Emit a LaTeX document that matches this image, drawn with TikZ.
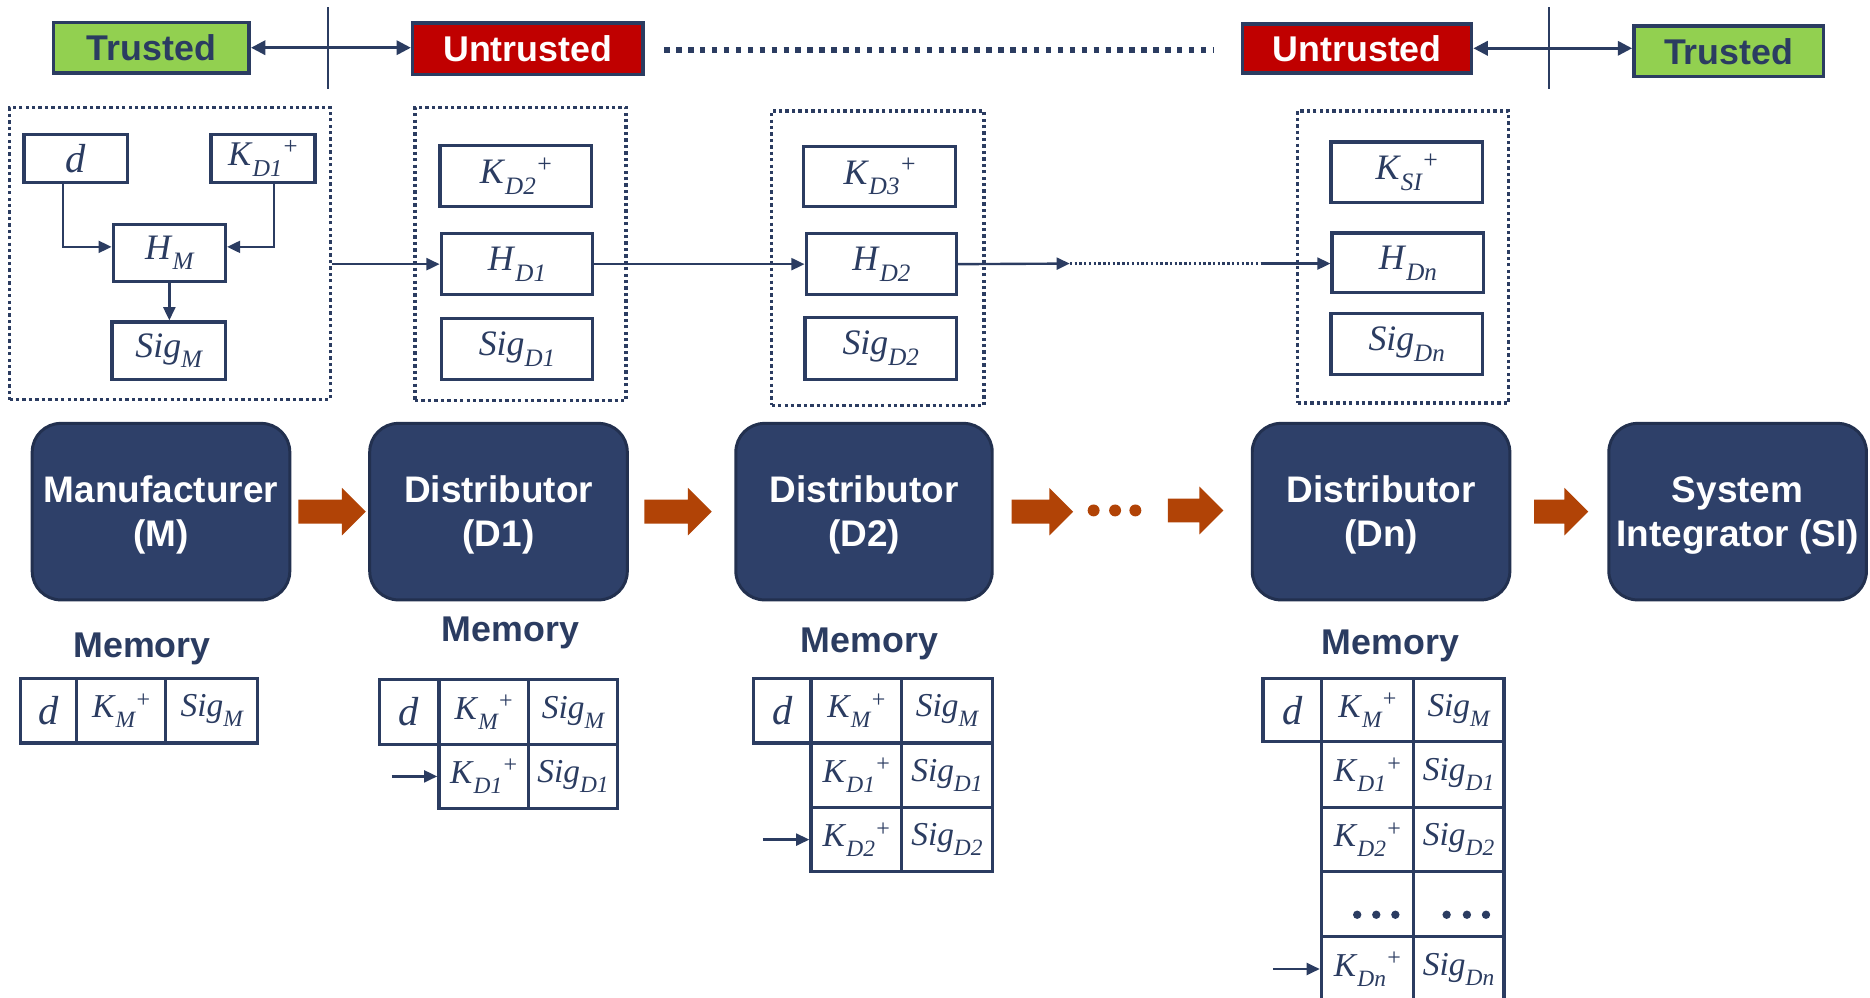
\documentclass[tikz,border=0pt]{standalone}
\usepackage{fontspec}
\usepackage{graphicx}
\setmainfont{Liberation Serif}
\newfontfamily\arialfont{Liberation Sans}
\usetikzlibrary{arrows.meta,calc}
\definecolor{navy}{HTML}{2B3C61}
\definecolor{blockfill}{HTML}{2E4069}
\definecolor{blockline}{HTML}{22304F}
\definecolor{greenT}{HTML}{92D050}
\definecolor{redU}{HTML}{C00000}
\definecolor{orangeA}{HTML}{B14306}
\newcommand{\mysb}[1]{\raisebox{-0.3em}{\scalebox{0.7}{\itshape #1}}}
\newcommand{\mysp}[1]{\kern0.04em\raisebox{0.32em}{\scalebox{0.72}{#1}}}
\newcommand{\myK}[1]{\textit{K}\mysb{#1}\mysp{+}}
\newcommand{\myH}[1]{\textit{H}\mysb{#1}}
\newcommand{\mySig}[1]{\textit{Sig}\mysb{#1}}
\newcommand{\blockarrow}[2]{\fill[orangeA] let \p1=(#1), \p2=(#2) in
  (\x1,\y1+10pt) -- (\x2-20pt,\y1+10pt) -- (\x2-20pt,\y1+20pt) -- (\x2,\y1)
  -- (\x2-20pt,\y1-20pt) -- (\x2-20pt,\y1-10pt) -- (\x1,\y1-10pt) -- cycle;}
\tikzset{
 lbl/.style={draw=navy, line width=2.8pt, fill=white, inner sep=0pt, text=navy, font=\fontsize{30}{36}\selectfont},
 dotbox/.style={draw=navy, line width=2.8pt, dash pattern=on 2.8pt off 2.6pt, inner sep=0pt},
 block/.style={draw=blockline, line width=2.5pt, fill=blockfill, rounded corners=24pt, text=white, align=center, font=\arialfont\bfseries\fontsize{31}{37}\selectfont, inner sep=0pt, minimum width=216pt, minimum height=148pt},
 tag/.style={draw=navy, line width=3pt, inner sep=0pt, font=\arialfont\bfseries\fontsize{30}{36}\selectfont},
 cell/.style={draw=navy, line width=2.8pt, inner sep=0pt, text=navy, font=\fontsize{28}{34}\selectfont},
 memlbl/.style={text=navy, font=\arialfont\bfseries\fontsize{30}{36}\selectfont, inner sep=0pt},
 conn/.style={draw=navy, line width=2pt, -{Triangle[length=11pt,width=10pt]}},
 dbl/.style={draw=navy, line width=2.2pt, {Triangle[length=12pt,width=12pt]}-{Triangle[length=12pt,width=12pt]}},
 sep/.style={draw=navy, line width=2pt},
 btext/.style={yshift=-3pt},
}
\begin{document}
\begin{tikzpicture}[x=1pt,y=-1pt]
\fill[white] (0,0) rectangle (1568,836);
\useasboundingbox (0,0) rectangle (1568,836);

% ---------- top row ----------
\node[tag, fill=greenT, text=navy, minimum width=164pt, minimum height=42pt] (tl) at (127,40) {Trusted};
\node[tag, fill=redU, text=white, minimum width=193pt, minimum height=43pt] (ul) at (442.5,41) {Untrusted};
\node[tag, fill=redU, text=white, minimum width=192pt, minimum height=41pt] (ur) at (1138,40.5) {Untrusted};
\node[tag, fill=greenT, text=navy, minimum width=159pt, minimum height=42pt] (tr) at (1449.5,43) {Trusted};
\coordinate (s1a) at (275,6); \coordinate (s1b) at (275,75);
\coordinate (s2a) at (1299,6); \coordinate (s2b) at (1299,75);
\draw[sep] (s1a) -- (s1b);
\draw[sep] (s2a) -- (s2b);
\draw[dbl] (tl.east) -- (tl.east -| ul.west);
\draw[dbl] (ur.east) -- (ur.east -| tr.west);
\coordinate (dA) at (557,42); \coordinate (dB) at (1018,42);
\draw[navy, line width=4.5pt, dash pattern=on 4.5pt off 5.5pt] (dA) -- (dB);

% ---------- dotted groups ----------
\node[dotbox, minimum width=269pt, minimum height=245pt] (B1) at (142.5,212.5) {};
\node[dotbox, minimum width=177pt, minimum height=246pt] (B2) at (436.5,213) {};
\node[dotbox, minimum width=178pt, minimum height=247pt] (B3) at (736,216.5) {};
\node[dotbox, minimum width=177pt, minimum height=245pt] (B4) at (1176.5,215.5) {};

% group 1
\node[lbl, minimum width=87pt, minimum height=40pt, font=\fontsize{34}{36}\selectfont] (d1) at (63.5,133) {\textit{d}};
\node[lbl, minimum width=87pt, minimum height=40pt, font=\fontsize{29}{34}\selectfont] (kd1) at (220.5,133) {\myK{D1}};
\node[lbl, minimum width=94pt, minimum height=48pt] (hm) at (142,212) {\myH{M}};
\node[lbl, minimum width=95pt, minimum height=48pt] (sigm) at (141.5,294) {\mySig{M}};
\draw[conn] ([xshift=-10.5pt]d1.south) |- ([yshift=5pt]hm.west);
\draw[conn] ([xshift=9.5pt]kd1.south) |- ([yshift=5pt]hm.east);
\draw[conn] (hm.south) -- (hm.south |- sigm.north);

% group 2
\node[lbl, minimum width=127pt, minimum height=51pt] (kd2) at (432.5,147.5) {\myK{D2}};
\node[lbl, minimum width=127pt, minimum height=51pt] (hd1) at (433.5,221.5) {\myH{D1}};
\node[lbl, minimum width=127pt, minimum height=51pt] (sd1) at (433.5,292.5) {\mySig{D1}};
\draw[conn] (B1.east |- hd1.west) -- (hd1.west);

% group 3
\node[lbl, minimum width=127pt, minimum height=50pt] (kd3) at (737.5,148) {\myK{D3}};
\node[lbl, minimum width=126pt, minimum height=51pt] (hd2) at (739,221.5) {\myH{D2}};
\node[lbl, minimum width=127pt, minimum height=52pt] (sd2) at (738.5,292) {\mySig{D2}};
\draw[conn] (hd1.east) -- (hd2.west);

% group 4
\node[lbl, minimum width=127pt, minimum height=51pt] (ksi) at (1179.5,144.5) {\myK{SI}};
\node[lbl, minimum width=127pt, minimum height=50pt] (hdn) at (1180.5,220.5) {\myH{Dn}};
\node[lbl, minimum width=127pt, minimum height=51pt] (sdn) at (1179.5,288.5) {\mySig{Dn}};
\coordinate (c1) at (897,221);
\coordinate (c2) at (1057,221);
\draw[conn] (hd2.east) -- (c1);
\draw[navy, line width=2pt, dash pattern=on 2pt off 2pt] (c1) -- (c2);
\draw[conn] (c2) -- (c2 -| hdn.west);

% ---------- blocks ----------
\node[block] (M) at (135,429) {};
\node[block] (D1) at (418,429) {};
\node[block, minimum width=215pt] (D2) at (724.5,429) {};
\node[block] (Dn) at (1158,429) {};
\node[block] (SI) at (1457,429) {};
\node[block, draw=none, fill=none, btext] (Mt) at (M.center) {Manufacturer\\(M)};
\node[block, draw=none, fill=none, btext] (D1t) at (D1.center) {Distributor\\(D1)};
\node[block, draw=none, fill=none, btext] (D2t) at (D2.center) {Distributor\\(D2)};
\node[block, draw=none, fill=none, btext] (Dnt) at (Dn.center) {Distributor\\(Dn)};
\node[block, draw=none, fill=none, btext] (SIt) at (SI.center) {System\\Integrator (SI)};

\node[circle, fill=orangeA, minimum size=10pt, inner sep=0pt] (e1) at (917,428) {};
\node[circle, fill=orangeA, minimum size=10pt, inner sep=0pt] (e2) at (935,428) {};
\node[circle, fill=orangeA, minimum size=10pt, inner sep=0pt] (e3) at (952,428) {};

\blockarrow{[xshift=6pt]M.east}{[xshift=-2pt]D1.west}
\blockarrow{[xshift=13pt]D1.east}{[xshift=-19pt]D2.west}
\blockarrow{[xshift=15pt]D2.east}{[xshift=-12pt]e1.west}
\blockarrow{[xshift=22pt]e3.east}{[xshift=-23pt]Dn.west}
\blockarrow{[xshift=19pt]Dn.east}{[xshift=-16pt]SI.west}

% ---------- memory ----------
\node[memlbl] (memM) at (119,544) {Memory};
\node[memlbl] (memA) at (428,531) {Memory};
\node[memlbl] (memB) at (729,540) {Memory};
\node[memlbl] (memC) at (1166,542) {Memory};

% M table
\node[cell, minimum width=47pt, minimum height=54pt, font=\fontsize{34}{36}\selectfont] (mD) at (40.5,596) {\textit{d}};
\node[cell, minimum width=75pt, minimum height=54pt] (mK) at (101.5,596) {\myK{M}};
\node[cell, minimum width=77pt, minimum height=54pt] (mS) at (177.5,596) {\mySig{M}};

% D1 table
\node[cell, minimum width=50pt, minimum height=54pt, font=\fontsize{34}{36}\selectfont] (aD) at (343,597) {\textit{d}};
\node[cell, minimum width=75pt, minimum height=54pt] (aK) at (405.5,597) {\myK{M}};
\node[cell, minimum width=75pt, minimum height=54pt] (aS) at (480.5,597) {\mySig{M}};
\node[cell, minimum width=75pt, minimum height=54pt] (aK2) at (405.5,651) {\myK{D1}};
\node[cell, minimum width=75pt, minimum height=54pt] (aS2) at (480.5,651) {\mySig{D1}};
\draw[conn] ([xshift=-38pt]aK2.west) -- (aK2.west);

% D2 table
\node[cell, minimum width=48pt, minimum height=54pt, font=\fontsize{34}{36}\selectfont] (bD) at (656,596) {\textit{d}};
\node[cell, minimum width=76pt, minimum height=54pt] (bK) at (718,596) {\myK{M}};
\node[cell, minimum width=76pt, minimum height=54pt] (bS) at (794,596) {\mySig{M}};
\node[cell, minimum width=76pt, minimum height=54pt] (bK2) at (718,650) {\myK{D1}};
\node[cell, minimum width=76pt, minimum height=54pt] (bS2) at (794,650) {\mySig{D1}};
\node[cell, minimum width=76pt, minimum height=54pt] (bK3) at (718,704) {\myK{D2}};
\node[cell, minimum width=76pt, minimum height=54pt] (bS3) at (794,704) {\mySig{D2}};
\draw[conn] ([xshift=-39pt]bK3.west) -- (bK3.west);

% Dn table
\node[cell, minimum width=49pt, minimum height=53pt, font=\fontsize{34}{36}\selectfont] (cD) at (1083.5,595.5) {\textit{d}};
\node[cell, minimum width=77pt, minimum height=53pt] (cK) at (1146.5,595.5) {\myK{M}};
\node[cell, minimum width=76pt, minimum height=53pt] (cS) at (1223,595.5) {\mySig{M}};
\node[cell, minimum width=77pt, minimum height=55pt] (cK2) at (1146.5,649.5) {\myK{D1}};
\node[cell, minimum width=76pt, minimum height=55pt] (cS2) at (1223,649.5) {\mySig{D1}};
\node[cell, minimum width=77pt, minimum height=54pt] (cK3) at (1146.5,704) {\myK{D2}};
\node[cell, minimum width=76pt, minimum height=54pt] (cS3) at (1223,704) {\mySig{D2}};
\node[cell, minimum width=77pt, minimum height=54pt] (cK4) at (1146.5,758) {};
\node[cell, minimum width=76pt, minimum height=54pt] (cS4) at (1223,758) {};
\node[cell, minimum width=77pt, minimum height=55pt] (cK5) at (1146.5,812.5) {\myK{Dn}};
\node[cell, minimum width=76pt, minimum height=55pt] (cS5) at (1223,812.5) {\mySig{Dn}};
\foreach \dx in {-8.5,7.5,23.5} {
  \fill[navy] ([shift={(\dx,9)}]cK4.center) circle (3.5pt);
}
\foreach \dx in {-10,7,23} {
  \fill[navy] ([shift={(\dx,9)}]cS4.center) circle (3.5pt);
}
\draw[conn] ([xshift=-39pt]cK5.west) -- (cK5.west);
\end{tikzpicture}
\end{document}
